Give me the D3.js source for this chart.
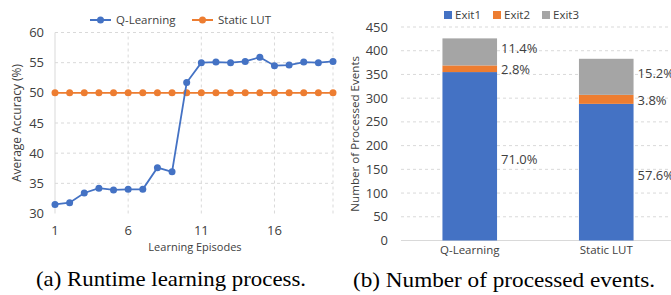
<!DOCTYPE html>
<html>
<head>
  <script src="https://cdnjs.cloudflare.com/ajax/libs/d3/7.8.5/d3.min.js"></script>
  <style>
    body { margin: 0; background: #fff; }
    svg { font-family: "Open Sans", "Noto Sans", sans-serif; }
    .grid line { stroke: #d9d9d9; stroke-dasharray: 3,3; stroke-width: 1; }
    .tick-label { font-size: 13px; fill: #404040; }
    .axis-title { font-size: 11px; fill: #404040; }
    .caption { font-family: "Liberation Serif", "DejaVu Serif", serif; font-size: 21px; fill: #000; }
  </style>
</head>
<body>
<svg id="chart" width="671" height="295"></svg>
<script>
  // Left: runtime learning process
  const episodes = d3.range(1, 21);
  const qLearning = [31.5, 31.8, 33.4, 34.2, 33.9, 34.0, 34.0, 37.6, 36.9, 51.7,
                     55.0, 55.1, 55.0, 55.2, 55.9, 54.5, 54.6, 55.1, 55.0, 55.2];
  const staticLut = [50, 50, 50, 50, 50, 50, 50, 50, 50, 50,
                     50, 50, 50, 50, 50, 50, 50, 50, 50, 50];
  const xTicks = [1, 6, 11, 16];
  const yTicks = [30, 35, 40, 45, 50, 55, 60];

  // Right: processed events (out of 500)
  const methods = ["Q-Learning", "Static LUT"];
  const exitNames = ["Exit1", "Exit2", "Exit3"];
  const exit1 = [355, 288];
  const exit2 = [14, 19];
  const exit3 = [57, 76];
  const exit1Pct = ["71.0%", "57.6%"];
  const exit2Pct = ["2.8%", "3.8%"];
  const exit3Pct = ["11.4%", "15.2%"];
  const barTicks = d3.range(0, 451, 50);

  const blue = "#4472C4", orange = "#ED7D31", gray = "#A5A5A5";
  const svg = d3.select("#chart");

  // ---------- left chart ----------
  const x = d3.scaleLinear().domain([1, 20]).range([55, 333]);
  const y = d3.scaleLinear().domain([30, 60]).range([213.5, 32.5]);

  const gl = svg.append("g");
  const grid = gl.append("g").attr("class", "grid");
  grid.selectAll(".h").data(yTicks.filter(d => d > 30)).join("line")
    .attr("x1", x(1)).attr("x2", x(20)).attr("y1", d => y(d)).attr("y2", d => y(d));
  grid.selectAll(".v").data(xTicks.filter(d => d > 1).concat([20])).join("line")
    .attr("y1", y(30)).attr("y2", y(60)).attr("x1", d => x(d)).attr("x2", d => x(d));
  gl.append("line").attr("x1", x(1)).attr("x2", x(1)).attr("y1", y(30)).attr("y2", y(60))
    .attr("stroke", "#d9d9d9");

  gl.selectAll(".ytl").data(yTicks).join("text").attr("class", "tick-label")
    .attr("x", 44).attr("y", d => y(d)).attr("dy", "0.35em").attr("text-anchor", "end")
    .text(d => d);
  gl.selectAll(".xtl").data(xTicks).join("text").attr("class", "tick-label")
    .attr("x", d => x(d)).attr("y", 235).attr("text-anchor", "middle").text(d => d);

  gl.append("text").attr("class", "axis-title").style("font-size", "12px")
    .attr("transform", `translate(21,${(y(30) + y(60)) / 2}) rotate(-90)`)
    .attr("text-anchor", "middle").text("Average Accuracy (%)");
  gl.append("text").attr("class", "axis-title")
    .attr("x", 195).attr("y", 251).attr("text-anchor", "middle").text("Learning Episodes");

  const line = d3.line().x((d, i) => x(episodes[i])).y(d => y(d));
  [[staticLut, orange], [qLearning, blue]].forEach(([vals, c]) => {
    gl.append("path").datum(vals).attr("d", line)
      .attr("fill", "none").attr("stroke", c).attr("stroke-width", 1.8);
    gl.selectAll(null).data(vals).join("circle")
      .attr("cx", (d, i) => x(episodes[i])).attr("cy", d => y(d)).attr("r", 3.5)
      .attr("fill", c);
  });

  // legend
  const leg = [["Q-Learning", blue, 90], ["Static LUT", orange, 192]];
  leg.forEach(([name, c, lx]) => {
    gl.append("line").attr("x1", lx).attr("x2", lx + 21).attr("y1", 20).attr("y2", 20)
      .attr("stroke", c).attr("stroke-width", 2);
    gl.append("circle").attr("cx", lx + 10.5).attr("cy", 20).attr("r", 3.5).attr("fill", c);
    gl.append("text").attr("class", "axis-title").style("font-size", "11.5px")
      .attr("x", lx + 26).attr("y", 20).attr("dy", "0.35em").text(name);
  });

  // ---------- right chart ----------
  const xb = d3.scaleBand().domain(methods).range([401.5, 674.5]).paddingInner(0.6).paddingOuter(0.3);
  const yb = d3.scaleLinear().domain([0, 450]).range([240.5, 27]);

  const gr = svg.append("g");
  const grid2 = gr.append("g").attr("class", "grid");
  grid2.selectAll("line").data(barTicks.filter(d => d > 0)).join("line")
    .attr("x1", 401).attr("x2", 671).attr("y1", d => yb(d)).attr("y2", d => yb(d));
  gr.append("line").attr("x1", 401).attr("x2", 671).attr("y1", yb(0)).attr("y2", yb(0))
    .attr("stroke", "#d9d9d9");

  gr.selectAll(".ytl").data(barTicks).join("text").attr("class", "tick-label")
    .attr("x", 388).attr("y", d => yb(d)).attr("dy", "0.35em").attr("text-anchor", "end")
    .text(d => d);
  gr.selectAll(".xtl").data(methods).join("text").attr("class", "axis-title")
    .style("font-size", "11.5px")
    .attr("x", d => xb(d) + xb.bandwidth() / 2).attr("y", 254).attr("text-anchor", "middle")
    .text(d => d);
  gr.append("text").attr("class", "axis-title").style("font-size", "11.6px")
    .attr("transform", `translate(359,${(yb(0) + yb(450)) / 2}) rotate(-90)`)
    .attr("text-anchor", "middle").text("Number of Processed Events");

  const rows = methods.map((m, i) => ({ method: m, Exit1: exit1[i], Exit2: exit2[i], Exit3: exit3[i] }));
  const stacked = d3.stack().keys(exitNames)(rows);
  const colors = d3.scaleOrdinal().domain(exitNames).range([blue, orange, gray]);
  const pcts = { Exit1: exit1Pct, Exit2: exit2Pct, Exit3: exit3Pct };

  stacked.forEach(layer => {
    gr.selectAll(null).data(layer).join("rect")
      .attr("x", d => xb(d.data.method)).attr("width", xb.bandwidth())
      .attr("y", d => yb(d[1])).attr("height", d => yb(d[0]) - yb(d[1]))
      .attr("fill", colors(layer.key));
    gr.selectAll(null).data(layer).join("text").attr("class", "tick-label")
      .attr("x", d => xb(d.data.method) + xb.bandwidth() + 4)
      .attr("y", d => yb((d[0] + d[1]) / 2) + (layer.key === "Exit3" ? -3 : layer.key === "Exit1" ? 3 : 1))
      .attr("dy", "0.35em")
      .text((d, i) => pcts[layer.key][i]);
  });

  // legend
  exitNames.forEach((name, i) => {
    const lx = 444 + i * 49;
    gr.append("rect").attr("x", lx).attr("y", 11).attr("width", 8).attr("height", 8)
      .attr("fill", colors(name));
    gr.append("text").attr("class", "axis-title").style("font-size", "11.5px")
      .attr("x", lx + 11).attr("y", 15).attr("dy", "0.35em").text(name);
  });

  // captions
  svg.append("text").attr("class", "caption").attr("x", 36).attr("y", 286)
    .attr("textLength", 270).attr("lengthAdjust", "spacingAndGlyphs")
    .text("(a) Runtime learning process.");
  svg.append("text").attr("class", "caption").attr("x", 353).attr("y", 287)
    .attr("textLength", 302).attr("lengthAdjust", "spacingAndGlyphs")
    .text("(b) Number of processed events.");
</script>
</body>
</html>
